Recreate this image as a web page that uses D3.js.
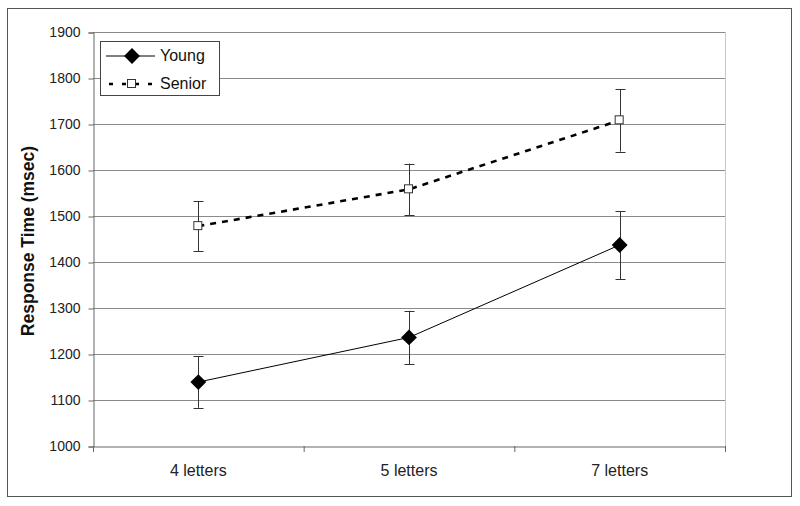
<!DOCTYPE html>
<html><head><meta charset="utf-8">
<script src="https://cdn.jsdelivr.net/npm/d3@7"></script>
<style>body{margin:0;background:#fff}svg{display:block}text{font-family:Arial,"Liberation Sans",sans-serif}</style>
</head><body>
<script>
const categories = ["4 letters", "5 letters", "7 letters"];
const youngValues = [1139, 1236, 1437];
const youngErrors = [56, 58, 74];
const seniorValues = [1478, 1558, 1708];
const seniorErrors = [54, 56, 68];
const yTicks = [1000, 1100, 1200, 1300, 1400, 1500, 1600, 1700, 1800, 1900];
const seriesNames = ["Young", "Senior"];

const W = 800, H = 506;
const svg = d3.select("body").append("svg").attr("width", W).attr("height", H);
svg.append("rect").attr("x", 7.5).attr("y", 8.5).attr("width", 784).attr("height", 488)
  .attr("fill", "#fff").attr("stroke", "#555").attr("stroke-width", 1);

const L = 93, R = 725, T = 32, B = 446;
const x = d3.scaleBand().domain(categories).range([L, R]);
const y = d3.scaleLinear().domain([1000, 1900]).range([B, T]);

// gridlines
svg.append("g").selectAll("line").data(yTicks.slice(1)).join("line")
  .attr("x1", L).attr("x2", R).attr("y1", d => y(d) + 0.5).attr("y2", d => y(d) + 0.5)
  .attr("stroke", "#8a8a8a").attr("stroke-width", 1);
// right border
svg.append("line").attr("x1", R + 0.5).attr("x2", R + 0.5).attr("y1", T).attr("y2", B)
  .attr("stroke", "#c8c8c8");

// y axis
const yAxis = svg.append("g").attr("transform", `translate(${L + 0.5},0.5)`)
  .call(d3.axisLeft(y).tickValues(yTicks).tickSize(5).tickPadding(8).tickFormat(d3.format("d")));
yAxis.select(".domain").attr("stroke", "#666");
yAxis.selectAll(".tick line").attr("stroke", "#666");
yAxis.selectAll("text").attr("font-size", 14).attr("fill", "#222");

// x axis
const xAxis = svg.append("g").attr("transform", `translate(0,${B + 0.5})`)
  .call(d3.axisBottom(x).tickSize(0).tickPadding(18));
xAxis.select(".domain").attr("stroke", "#666");
xAxis.selectAll("text").attr("font-size", 16).attr("fill", "#222");
// category boundary ticks
const bounds = categories.map(c => x(c)).concat([R]);
svg.append("g").selectAll("line").data(bounds).join("line")
  .attr("x1", d => d + 0.5).attr("x2", d => d + 0.5).attr("y1", B).attr("y2", B + 6)
  .attr("stroke", "#666");

// y label
svg.append("text").attr("transform", `translate(34,${(T + B) / 2 + 2}) rotate(-90)`)
  .attr("text-anchor", "middle").attr("font-size", 17.5).attr("font-weight", "bold")
  .attr("fill", "#111").text("Response Time (msec)");

const cx = c => x(c) + x.bandwidth() / 2;
const line = d3.line().x(d => cx(d.c)).y(d => y(d.v));

function errorBars(vals, errs) {
  const g = svg.append("g").attr("stroke", "#333").attr("stroke-width", 1);
  categories.forEach((c, i) => {
    const px = Math.round(cx(c)) + 0.5;
    g.append("line").attr("x1", px).attr("x2", px).attr("y1", y(vals[i] + errs[i])).attr("y2", y(vals[i] - errs[i]));
    [vals[i] + errs[i], vals[i] - errs[i]].forEach(v => {
      g.append("line").attr("x1", px - 5).attr("x2", px + 5).attr("y1", Math.round(y(v)) + 0.5).attr("y2", Math.round(y(v)) + 0.5);
    });
  });
}

const seniorData = categories.map((c, i) => ({c, v: seniorValues[i]}));
const youngData = categories.map((c, i) => ({c, v: youngValues[i]}));

errorBars(seniorValues, seniorErrors);
errorBars(youngValues, youngErrors);

svg.append("path").datum(seniorData).attr("d", line).attr("fill", "none")
  .attr("stroke", "#000").attr("stroke-width", 2.6).attr("stroke-dasharray", "6,6");
svg.append("path").datum(youngData).attr("d", line).attr("fill", "none")
  .attr("stroke", "#000").attr("stroke-width", 1);

const diamond = d3.symbol().type(d3.symbolDiamond2).size(160);
svg.append("g").selectAll("path").data(youngData).join("path")
  .attr("transform", d => `translate(${cx(d.c)},${y(d.v)})`).attr("d", diamond).attr("fill", "#000");
svg.append("g").selectAll("rect").data(seniorData).join("rect")
  .attr("x", d => cx(d.c) - 4.5).attr("y", d => y(d.v) - 4.5).attr("width", 8).attr("height", 8)
  .attr("fill", "#fff").attr("stroke", "#333").attr("stroke-width", 1);

// legend
const lg = svg.append("g");
lg.append("rect").attr("x", 100.5).attr("y", 41.5).attr("width", 119).attr("height", 54)
  .attr("fill", "#fff").attr("stroke", "#444");
lg.append("line").attr("x1", 106).attr("x2", 155).attr("y1", 56).attr("y2", 56).attr("stroke", "#000");
lg.append("path").attr("transform", "translate(132,56)").attr("d", diamond).attr("fill", "#000");
lg.append("line").attr("x1", 109).attr("x2", 154).attr("y1", 84).attr("y2", 84)
  .attr("stroke", "#000").attr("stroke-width", 2.6).attr("stroke-dasharray", "4,9");
lg.append("rect").attr("x", 127.5).attr("y", 79.5).attr("width", 8).attr("height", 8)
  .attr("fill", "#fff").attr("stroke", "#333");
lg.selectAll("text.lab").data(seriesNames).join("text")
  .attr("x", 160).attr("y", (d, i) => 61 + i * 28).attr("font-size", 16).attr("fill", "#111").text(d => d);
</script>
</body></html>
